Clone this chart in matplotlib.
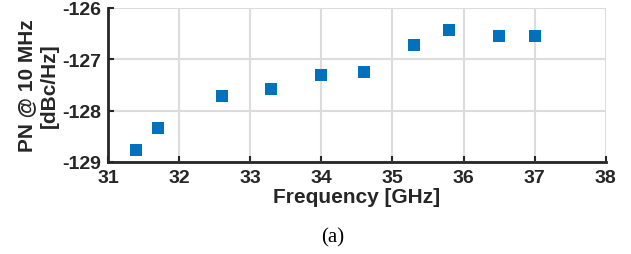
import matplotlib.pyplot as plt

freq = [31.4, 31.7, 32.6, 33.3, 34.0, 34.6, 35.3, 35.8, 36.5, 37.0]
pn = [-128.77, -128.33, -127.72, -127.58, -127.31, -127.25, -126.73, -126.43, -126.55, -126.55]

xticks = [31, 32, 33, 34, 35, 36, 37, 38]
yticks = [-129, -128, -127, -126]

plt.rcParams['font.family'] = ['Liberation Sans', 'DejaVu Sans']

fig = plt.figure(figsize=(6.31, 2.55), dpi=100)
ax = fig.add_axes([0.171, 0.361, 0.789, 0.604])

ax.plot(freq, pn, 's', color='#0072BD', markersize=8, markeredgewidth=0, zorder=3)

ax.set_xlim(31, 38)
ax.set_ylim(-129, -126)
ax.set_xticks(xticks)
ax.set_yticks(yticks)
ax.set_xticklabels([str(t) for t in xticks], fontsize=14, fontweight='bold', color='#262626')
ax.set_yticklabels([str(t) for t in yticks], fontsize=14, fontweight='bold', color='#262626')

ax.grid(True, color='#dcdcdc', linewidth=1.5)
ax.set_axisbelow(True)
for side in ['top', 'right']:
    ax.spines[side].set_visible(False)
for side in ['left', 'bottom']:
    ax.spines[side].set_linewidth(2)
    ax.spines[side].set_color('#262626')
ax.tick_params(direction='in', length=4, width=1.5, pad=5, color='#262626')

ax.set_xlabel('Frequency [GHz]', fontsize=15, fontweight='bold', color='#262626', labelpad=1)
ax.set_ylabel('PN @ 10 MHz\n[dBc/Hz]', fontsize=15, fontweight='bold', color='#262626',
              linespacing=1.3, labelpad=2)

fig.text(0.528, 0.067, '(a)', fontsize=15, family=['Liberation Serif'], ha='center', va='center')

fig.savefig('out.png', dpi=100)
